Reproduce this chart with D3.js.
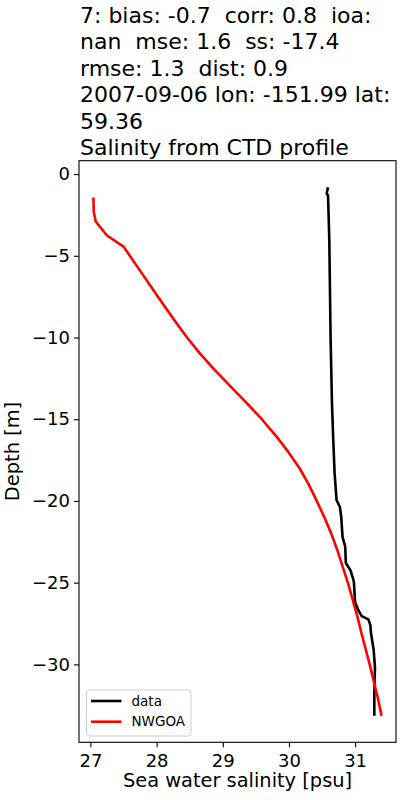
<!DOCTYPE html>
<html lang="en">
<head>
<meta charset="UTF-8">
<title>Salinity from CTD profile</title>
<script src="https://cdn.jsdelivr.net/npm/d3@7"></script>
<style>
  body { margin: 0; background: #fff; }
  text { font-family: "DejaVu Sans", sans-serif; fill: #000; white-space: pre; }
</style>
</head>
<body>
<div id="chart"></div>
<script>
var titleLines = [
  '7: bias: -0.7  corr: 0.8  ioa:',
  'nan  mse: 1.6  ss: -17.4',
  'rmse: 1.3  dist: 0.9',
  '2007-09-06 lon: -151.99 lat:',
  '59.36',
  'Salinity from CTD profile'
];

// CTD observations
var dataSal   = [30.59, 30.57, 30.59, 30.60, 30.61, 30.63, 30.65, 30.67, 30.69, 30.72, 30.77, 30.79, 30.81, 30.85, 30.86, 30.93, 30.98, 31.00, 31.05, 31.10, 31.20, 31.23, 31.24, 31.28, 31.30, 31.29, 31.29];
var dataDepth = [-0.8, -1.2, -1.3, -2.6, -4.1, -10.2, -14.0, -16.3, -18.3, -19.96, -20.37, -20.98, -22.2, -22.8, -23.8, -24.25, -24.9, -26.2, -26.7, -27.05, -27.25, -27.6, -28.1, -29.1, -30.2, -31.8, -33.15];

// NWGOA model profile
var modelSal   = [27.045, 27.05, 27.08, 27.25, 27.50, 27.765, 28.02, 28.28, 28.46, 28.66, 28.88, 29.12, 29.36, 29.59, 29.80, 29.99, 30.16, 30.30, 30.42, 30.535, 30.64, 30.73, 30.81, 30.89, 30.96, 31.03, 31.09, 31.155, 31.22, 31.28, 31.34, 31.40];
var modelDepth = [-1.43, -2.3, -2.9, -3.76, -4.44, -6.0, -7.5, -9.0, -10.0, -11.0, -12.0, -13.0, -14.0, -15.0, -16.0, -17.0, -18.0, -19.0, -20.0, -21.0, -22.0, -23.0, -24.0, -25.0, -26.0, -27.0, -28.0, -29.0, -30.0, -31.0, -32.0, -33.15];

var xTicks = [27, 28, 29, 30, 31];
var yTicks = [0, -5, -10, -15, -20, -25, -30];

var width = 400, height = 800;
var axL = 79, axR = 396, axT = 160.7, axB = 742.3;

var svg = d3.select('#chart').append('svg')
    .attr('width', width).attr('height', height);

function padded(ext) {
  var p = (ext[1] - ext[0]) * 0.05;
  return [ext[0] - p, ext[1] + p];
}

var xScale = d3.scaleLinear()
    .domain(padded(d3.extent(dataSal.concat(modelSal))))
    .range([axL, axR]);
var yScale = d3.scaleLinear()
    .domain(padded(d3.extent(dataDepth.concat(modelDepth))))
    .range([axB, axT]);

var line = d3.line()
    .x(function(d) { return xScale(d[0]); })
    .y(function(d) { return yScale(d[1]); });

svg.append('path')
    .datum(d3.zip(dataSal, dataDepth))
    .attr('d', line)
    .attr('fill', 'none').attr('stroke', '#000')
    .attr('stroke-width', 2.6).attr('stroke-linejoin', 'round');

svg.append('path')
    .datum(d3.zip(modelSal, modelDepth))
    .attr('d', line)
    .attr('fill', 'none').attr('stroke', '#ff0000')
    .attr('stroke-width', 2.6).attr('stroke-linejoin', 'round');

// axes
var xAxis = d3.axisBottom(xScale).tickValues(xTicks).tickSize(5).tickPadding(4)
    .tickFormat(d3.format('d'));
var yAxis = d3.axisLeft(yScale).tickValues(yTicks).tickSize(5).tickPadding(4)
    .tickFormat(function(d) { return d < 0 ? '\u2212' + Math.abs(d) : d; });

var xg = svg.append('g').attr('transform', 'translate(0,' + axB + ')').call(xAxis);
var yg = svg.append('g').attr('transform', 'translate(' + axL + ',0)').call(yAxis);
[xg, yg].forEach(function(g) {
  g.select('.domain').remove();
  g.selectAll('.tick line').attr('stroke', '#000').attr('stroke-width', 1.1);
  g.selectAll('.tick text').style('font-size', '18px').attr('fill', '#000');
});
xg.selectAll('.tick text').attr('dy', '0.85em');

svg.append('rect')
    .attr('x', axL).attr('y', axT)
    .attr('width', axR - axL).attr('height', axB - axT)
    .attr('fill', 'none').attr('stroke', '#000').attr('stroke-width', 1.1);

// labels
svg.append('text')
    .attr('x', (axL + axR) / 2).attr('y', 787)
    .attr('text-anchor', 'middle').style('font-size', '19.4px')
    .text('Sea water salinity [psu]');

svg.append('text')
    .attr('transform', 'translate(19,' + ((axT + axB) / 2) + ') rotate(-90)')
    .attr('text-anchor', 'middle').style('font-size', '19.4px')
    .text('Depth [m]');

svg.append('g').selectAll('text')
    .data(titleLines)
    .enter().append('text')
    .attr('x', axL + 1)
    .attr('y', function(d, i) { return 23 + i * 26.4; })
    .style('font-size', '22px')
    .text(function(d) { return d; });

// legend
var legend = svg.append('g').attr('transform', 'translate(86.5,690)');
legend.append('rect')
    .attr('width', 104.5).attr('height', 46).attr('rx', 3)
    .attr('fill', '#fff').attr('fill-opacity', 0.8)
    .attr('stroke', '#ccc').attr('stroke-width', 1);
var items = [['data', '#000'], ['NWGOA', '#ff0000']];
items.forEach(function(it, i) {
  var y = 11 + i * 20.7;
  legend.append('line')
      .attr('x1', 4.5).attr('x2', 35).attr('y1', y).attr('y2', y)
      .attr('stroke', it[1]).attr('stroke-width', 2.6);
  legend.append('text')
      .attr('x', 45).attr('y', y).attr('dy', '0.35em')
      .style('font-size', '13.5px')
      .text(it[0]);
});
</script>
</body>
</html>
